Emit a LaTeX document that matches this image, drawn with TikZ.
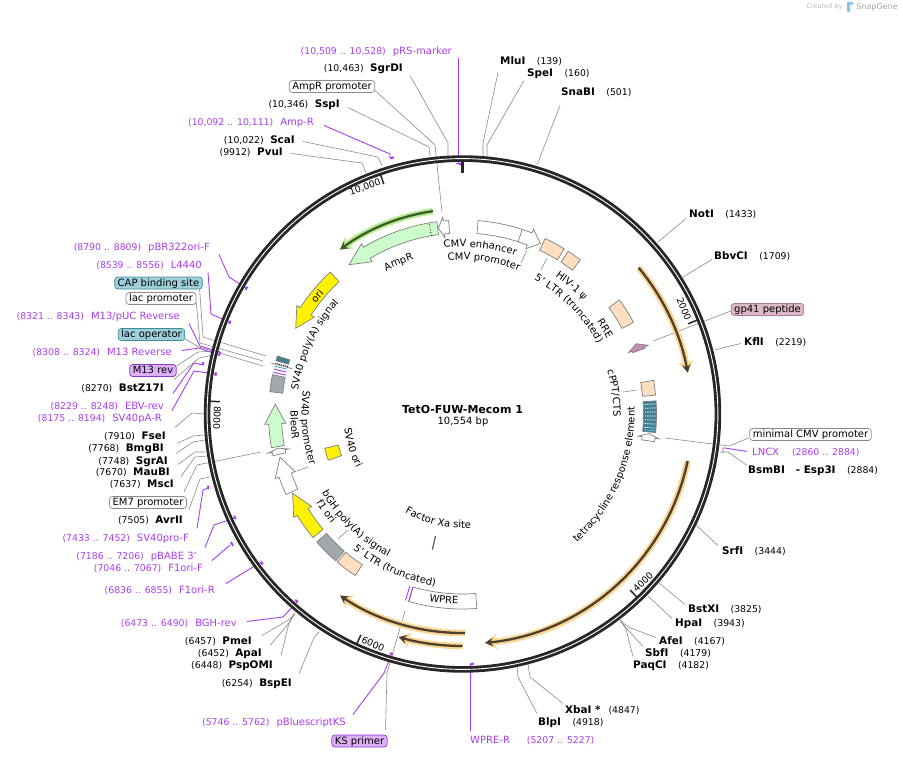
\documentclass[tikz,border=0pt]{standalone}
\usepackage{fontspec}
\setmainfont{DejaVu Sans}
\usepackage{tikz}
\usetikzlibrary{
  arrows.meta,
  decorations.text
}
\definecolor{PrimerPurple}{HTML}{A93CF0}
\definecolor{LeaderGray}{HTML}{8A8A8A}
\definecolor{FeatGray}{HTML}{7F7F7F}
\definecolor{RingDark}{HTML}{262626}
\definecolor{PeachBox}{HTML}{FDDFC0}
\definecolor{MintBox}{HTML}{CCFCCC}
\definecolor{SlateBox}{HTML}{A3A8AE}
\definecolor{TealBox}{HTML}{3F7F90}
\definecolor{AmberGlow}{HTML}{FBD592}
\definecolor{AmberDark}{HTML}{4B4030}
\definecolor{LimeGlow}{HTML}{B8EC94}
\definecolor{LimeDark}{HTML}{3D5A28}
\definecolor{TagRose}{HTML}{A87A95}
\definecolor{RoseFill}{HTML}{DDB8C9}
\definecolor{RoseBody}{HTML}{C48FB0}
\definecolor{TagViolet}{HTML}{8A3AC8}
\definecolor{VioletFill}{HTML}{DDB0F5}
\definecolor{TagTeal}{HTML}{3E8DA0}
\definecolor{TealFill}{HTML}{9ED0DA}
\definecolor{LogoBlue}{HTML}{8CC5E8}
\newcommand{\fsmall}{\fontsize{9.3}{11}\selectfont}
\newcommand{\fname}{\fontsize{10.4}{12}\selectfont\bfseries}
\newcommand{\flab}{\fontsize{10}{12}\selectfont}
% position then enzyme, enzyme then position
\newcommand{\cutL}[2]{{\fsmall(#2)}\hspace{6.5pt}{\fname #1}}
\newcommand{\cutR}[2]{{\fname #1}\hspace{11.5pt}{\fsmall(#2)}}
\newcommand{\primL}[2]{{\fsmall(#2)}\hspace{7pt}{\flab #1}}
% feature shapes: box and arrow on the ring of features
\newcommand{\boxfeat}[3]{\draw[feat,fill=#1] (#2:194pt) arc (#2:#3:194pt) -- (#3:181pt) arc (#3:#2:181pt) -- cycle;}
\newcommand{\arrowfeat}[4]{\draw[feat,fill=#1] (#2:194pt) arc (#2:#3:194pt) -- (#3:198pt) -- (#4:187.5pt) -- (#3:177pt) -- (#3:181pt) arc (#3:#2:181pt) -- cycle;}
% curved labels: clockwise has its tops outward, counter-clockwise inward
\newcommand{\curveCW}[3]{\path[postaction={decorate},decoration={text along path,text align=center,text={|\flab|#3}}] ({#1+45}:#2pt) arc ({#1+45}:{#1-45}:#2pt);}
\newcommand{\curveCCW}[3]{\path[postaction={decorate},decoration={text along path,text align=center,text={|\flab|#3}}] ({#1-45}:#2pt) arc ({#1-45}:{#1+45}:#2pt);}
% highlighted arrow inside the ring
\newcommand{\glowarc}[5]{%
  \draw[line width=6.5pt,color=#1,-{Stealth[length=12pt,width=15pt]}] (#4:#3pt) arc (#4:#5:#3pt);
  \draw[line width=2.3pt,color=#2,-{Stealth[length=8pt,width=8.5pt]}] (#4:#3pt) arc (#4:#5:#3pt);}
\tikzset{
  % Enzyme and primer labels
  cutlbl/.style={inner sep=0pt, text height=8pt, text depth=2pt, font=\flab},
  cutw/.style={cutlbl, anchor=base west},
  cute/.style={cutlbl, anchor=base east},
  pri/.style={color=PrimerPurple},
  % Boxed feature label
  tag/.style={
    rectangle, rounded corners=3pt,
    draw=#1, line width=0.7pt, inner xsep=3pt, inner ysep=1pt,
    text height=8pt, text depth=2pt, font=\flab
  },
  tag/.default=LeaderGray,
  % Connectors
  leader/.style={draw=LeaderGray, line width=0.6pt},
  prim/.style={draw=PrimerPurple, line width=0.9pt},
  primtick/.style={draw=PrimerPurple, line width=2pt},
  % Ruler ticks and text
  ruler/.style={draw=RingDark, line width=1.5pt},
  rulerlbl/.style={font=\fsmall, inner sep=0pt},
  % Feature outline
  feat/.style={draw=FeatGray, line width=0.7pt, line join=miter}
}
\begin{document}
\begin{tikzpicture}[x=1pt,y=-1pt]
  \useasboundingbox (0,0) rectangle (903,757);

  % ---- LABELS, TOP ----
  \node[cute,pri] (prsmark) at (452,54.5) {\primL{pRS-marker}{10,509 .. 10,528}};
  \node[cute] (sgrdi) at (403,71.5) {\cutL{SgrDI}{10,463}};
  \node[tag,fill=white] (amppro) at (332,86.5) {AmpR promoter};
  \node[cute] (sspi) at (340,107.5) {\cutL{SspI}{10,346}};
  \node[cute,pri] (amprev) at (314,125.5) {\primL{Amp-R}{10,092 .. 10,111}};
  \node[cute] (scai) at (295,143.5) {\cutL{ScaI}{10,022}};
  \node[cute] (pvui) at (283,155.5) {\cutL{PvuI}{9912}};
  \node[cutw] (mlui) at (500,64.5) {\cutR{MluI}{139}};
  \node[cutw] (spei) at (527,76.5) {\cutR{SpeI}{160}};
  \node[cutw] (snabi) at (561,95.5) {\cutR{SnaBI}{501}};

  % ---- LABELS, RIGHT ----
  \node[cutw] (noti) at (689,217.5) {\cutR{NotI}{1433}};
  \node[cutw] (bbvci) at (714,259.5) {\cutR{BbvCI}{1709}};
  \node[tag=TagRose,fill=RoseFill] (gp41) at (767.5,309.5) {gp41 peptide};
  \node[cutw] (kfli) at (744,345.5) {\cutR{KflI}{2219}};
  \node[tag,fill=white] (mincmv) at (810.5,434.5) {minimal CMV promoter};
  \node[cutw,pri] (lncx) at (752,455.5) {{\flab LNCX}\hspace{13pt}{\fsmall(2860 .. 2884)}};
  \node[cutw] (bsmbi) at (748,473.5) {{\fname BsmBI}\hspace{11pt}{\fname -}\hspace{3.5pt}{\fname Esp3I}\hspace{11.5pt}{\fsmall(2884)}};
  \node[cutw] (srfi) at (722,554.5) {\cutR{SrfI}{3444}};
  \node[cutw] (bstxi) at (688,612.5) {\cutR{BstXI}{3825}};
  \node[cutw] (hpai) at (675,626.5) {\cutR{HpaI}{3943}};
  \node[cutw] (afei) at (659,644.5) {\cutR{AfeI}{4167}};
  \node[cutw] (sbfi) at (645,656.5) {\cutR{SbfI}{4179}};
  \node[cutw] (paqci) at (633,668.5) {\cutR{PaqCI}{4182}};

  % ---- LABELS, BOTTOM ----
  \node[cutw] (xbai) at (565,713.5) {{\fname XbaI *}\hspace{8pt}{\fsmall(4847)}};
  \node[cutw] (blpi) at (538,725.5) {\cutR{BlpI}{4918}};
  \node[cutw,pri] (wprer) at (470,743.5) {{\flab WPRE-R}\hspace{17pt}{\fsmall(5207 .. 5227)}};
  \node[tag=TagViolet,fill=VioletFill] (ksprimer) at (359.5,741) {KS primer};
  \node[cute,pri] (pblueks) at (346,725.5) {\primL{pBluescriptKS}{5746 .. 5762}};
  \node[cute] (bspei) at (292,686.5) {\cutL{BspEI}{6254}};
  \node[cute] (pspomi) at (273,668.5) {\cutL{PspOMI}{6448}};
  \node[cute] (apai) at (262,656.5) {\cutL{ApaI}{6452}};
  \node[cute] (pmei) at (252,644.5) {\cutL{PmeI}{6457}};

  % ---- LABELS, LEFT ----
  \node[cute,pri] (bghrev) at (237,626.5) {\primL{BGH-rev}{6473 .. 6490}};
  \node[cute,pri] (fori_r) at (215,593.5) {\primL{F1ori-R}{6836 .. 6855}};
  \node[cute,pri] (fori_f) at (203,571.5) {\primL{F1ori-F}{7046 .. 7067}};
  \node[cute,pri] (pbabe) at (197,559.5) {\primL{pBABE 3'}{7186 .. 7206}};
  \node[cute,pri] (svprof) at (189,541.5) {\primL{SV40pro-F}{7433 .. 7452}};
  \node[cute] (avrii) at (183,523.5) {\cutL{AvrII}{7505}};
  \node[tag,fill=white] (em7pro) at (148,502.5) {EM7 promoter};
  \node[cute] (msci) at (174,487.5) {\cutL{MscI}{7637}};
  \node[cute] (maubi) at (170,475.5) {\cutL{MauBI}{7670}};
  \node[cute] (sgrai) at (168,464.5) {\cutL{SgrAI}{7748}};
  \node[cute] (bmgbi) at (164,451.5) {\cutL{BmgBI}{7768}};
  \node[cute] (fsei) at (166,439.5) {\cutL{FseI}{7910}};
  \node[cute,pri] (svpar) at (162,421.5) {\primL{SV40pA-R}{8175 .. 8194}};
  \node[cute,pri] (ebvrev) at (164,409.5) {\primL{EBV-rev}{8229 .. 8248}};
  \node[cute] (bstz) at (164,391.5) {\cutL{BstZ17I}{8270}};
  \node[tag=TagViolet,fill=VioletFill] (m13rev) at (153,370.5) {M13 rev};
  \node[cute,pri] (m13r) at (172,355.5) {\primL{M13 Reverse}{8308 .. 8324}};
  \node[tag=TagTeal,fill=TealFill] (lacop) at (151.5,334.5) {lac operator};
  \node[cute,pri] (m13puc) at (180,319.5) {\primL{M13/pUC Reverse}{8321 .. 8343}};
  \node[tag,fill=white] (lacpro) at (161,298.5) {lac promoter};
  \node[tag=TagTeal,fill=TealFill] (capsite) at (158.5,283) {CAP binding site};
  \node[cute,pri] (l4440) at (202,268.5) {\primL{L4440}{8539 .. 8556}};
  \node[cute,pri] (pbrf) at (210,250.5) {\primL{pBR322ori-F}{8790 .. 8809}};

  % ---- CENTRE ----
  \node[inner sep=0pt,font=\fontsize{11}{13}\selectfont\bfseries] (title) at (462.5,409) {TetO-FUW-Mecom 1};
  \node[inner sep=0pt,font=\flab] (length) at (463,422) {10,554 bp};

  % ---- LOGO ----
  \node[inner sep=0pt,font=\fontsize{6.5}{8}\selectfont,text=gray!55] (created) at (824.5,7) {Created by};
  \node[inner sep=0pt,font=\fontsize{8}{10}\selectfont,text=gray!70] (snapgene) at (877,7) {SnapGene};
  \fill[LogoBlue] (847,2) -- (853,2) -- (853,5) -- (850,5) -- (850,12) -- (847,12) -- cycle;

  % ---- LEADERS, TOP ----
  \coordinate (prsmark-r) at (458,163);
  \draw[prim] ([shift={(6,7)}]prsmark.east) -- (prsmark-r) -- (456,163);
  \coordinate (sgrdi-r) at (448,156);
  \draw[leader] ([shift={(7,7)}]sgrdi.east) -- (448,143) -- (sgrdi-r);
  \coordinate (amppro-r) at (442,212);
  \draw[leader] ([shift={(0,4)}]amppro.east) -- (435,145) -- (amppro-r);
  \coordinate (sspi-r) at (430,156);
  \draw[leader] ([shift={(8,3)}]sspi.east) -- (429,147) -- (sspi-r);
  \coordinate (amprev-r) at (390,158);
  \draw[prim] ([shift={(10,3)}]amprev.east) -- (390,154) -- (amprev-r);
  \draw[primtick] (amprev-r) -- (394,157.5);
  \coordinate (scai-r) at (382,166);
  \draw[leader] ([shift={(8,1)}]scai.east) -- (378,157) -- (scai-r);
  \coordinate (pvui-r) at (366,173);
  \draw[leader] ([shift={(8,1)}]pvui.east) -- (362,163) -- (pvui-r);
  \coordinate (mlui-r) at (483,158);
  \draw[leader] ([shift={(-2,11)}]mlui.west) -- (483,143) -- (mlui-r);
  \coordinate (spei-r) at (487,158);
  \draw[leader] ([shift={(-3,7)}]spei.west) -- (487,145) -- (spei-r);
  \coordinate (snabi-r) at (537,165);
  \draw[leader] ([shift={(-1,13)}]snabi.west) -- (snabi-r);

  % ---- LEADERS, RIGHT ----
  \coordinate (noti-r) at (658,242);
  \draw[leader] ([shift={(-3,4)}]noti.west) -- (noti-r);
  \coordinate (bbvci-r) at (683,277);
  \draw[leader] ([shift={(-2,3)}]bbvci.west) -- (bbvci-r);
  \coordinate (gp41-r) at (653,341);
  \draw[leader] ([shift={(0,1.5)}]gp41.west) -- (gp41-r);
  \coordinate (kfli-r) at (715,350);
  \draw[leader] ([shift={(-3,1)}]kfli.west) -- (726,347) -- (kfli-r);
  \coordinate (mincmv-r) at (665,438);
  \draw[leader] ([shift={(-1,3.5)}]mincmv.west) -- (729,446) -- (mincmv-r);
  \coordinate (lncx-r) at (723,453);
  \draw[prim] ([shift={(-5,-1)}]lncx.west) -- (725,448) -- (723,448) -- (lncx-r);
  \coordinate (bsmbi-r) at (720,452);
  \draw[leader] ([shift={(-1,-5)}]bsmbi.west) -- (728,452) -- (bsmbi-r);
  \coordinate (srfi-r) at (694,523);
  \draw[leader] ([shift={(-4,-6)}]srfi.west) -- (srfi-r);
  \coordinate (bstxi-r) at (659,583);
  \draw[leader] ([shift={(-3,-5)}]bstxi.west) -- (bstxi-r);
  \coordinate (hpai-r) at (648,596);
  \draw[leader] ([shift={(-3,-5)}]hpai.west) -- (hpai-r);
  \coordinate (afei-r) at (620,620);
  \draw[leader] ([shift={(-3,-4)}]afei.west) -- (628,627) -- (afei-r);
  \coordinate (sbfi-r) at (620,620);
  \draw[leader] ([shift={(-2,-7)}]sbfi.west) -- (626,628) -- (sbfi-r);
  \coordinate (paqci-r) at (620,620);
  \draw[leader] ([shift={(0,-9)}]paqci.west) -- (626,629) -- (paqci-r);

  % ---- LEADERS, BOTTOM ----
  \coordinate (xbai-r) at (528,664);
  \draw[leader] ([shift={(-2,-7)}]xbai.west) -- (530,677) -- (xbai-r);
  \coordinate (blpi-r) at (517,666);
  \draw[leader] ([shift={(-1,-9)}]blpi.west) -- (518,677) -- (blpi-r);
  \coordinate (wprer-r) at (472,664);
  \draw[prim] ([shift={(0,-10)}]wprer.west) -- (470,664) -- (wprer-r);
  \coordinate (ksprimer-r) at (405,611);
  \draw[leader] ([shift={(-2,-5)}]ksprimer.north east) -- (387,673) -- (ksprimer-r);
  \coordinate (pblueks-r) at (392,653);
  \draw[prim] ([shift={(7,-8)}]pblueks.east) -- (384,673) -- (388,663) -- (pblueks-r);
  \coordinate (bspei-r) at (319,632);
  \draw[leader] ([shift={(7,-10)}]bspei.east) -- (314,638) -- (bspei-r);
  \coordinate (pspomi-r) at (294,614);
  \draw[leader] ([shift={(8,-10)}]pspomi.east) -- (289,623) -- (pspomi-r);
  \coordinate (apai-r) at (295,613);
  \draw[leader] ([shift={(8,-8)}]apai.east) -- (290,622) -- (apai-r);
  \coordinate (pmei-r) at (295,613);
  \draw[leader] ([shift={(10,-6)}]pmei.east) -- (290,619) -- (pmei-r);

  % ---- LEADERS, LEFT ----
  \coordinate (bghrev-r) at (297,602);
  \draw[prim] ([shift={(10,-2)}]bghrev.east) -- (283,617) -- (bghrev-r);
  \coordinate (fori_r-r) at (262,562);
  \draw[prim] ([shift={(11,-7)}]fori_r.east) -- (253,567) -- (fori_r-r);
  \coordinate (fori_f-r) at (230,545);
  \draw[prim] ([shift={(9,-8)}]fori_f.east) -- (fori_f-r);
  \draw[primtick] (231,542) -- (233,546);
  \coordinate (pbabe-r) at (235,518);
  \draw[prim] ([shift={(8,-9)}]pbabe.east) -- (214,525) -- (pbabe-r);
  \coordinate (svprof-r) at (208,488);
  \draw[prim] ([shift={(8,-10)}]svprof.east) -- (203,490) -- (svprof-r);
  \draw[primtick] (208,485.5) -- (208.5,489);
  \coordinate (avrii-r) at (210,477);
  \draw[leader] ([shift={(6,-11)}]avrii.east) -- (200,479) -- (avrii-r);
  \coordinate (em7pro-r) at (261,452);
  \draw[leader] ([shift={(36,-4.5)}]em7pro.north) -- (197,465) -- (em7pro-r);
  \coordinate (msci-r) at (207,456);
  \draw[leader] ([shift={(7,-8)}]msci.east) -- (195,457) -- (msci-r);
  \coordinate (maubi-r) at (205,452);
  \draw[leader] ([shift={(8,-8)}]maubi.east) -- (195,452) -- (maubi-r);
  \coordinate (sgrai-r) at (205,440);
  \draw[leader] ([shift={(8,-8)}]sgrai.east) -- (193,442) -- (sgrai-r);
  \coordinate (bmgbi-r) at (205,435);
  \draw[leader] ([shift={(13,-5)}]bmgbi.east) -- (193,436) -- (bmgbi-r);
  \coordinate (fsei-r) at (205,414);
  \draw[leader] ([shift={(9,-9)}]fsei.east) -- (192,413) -- (fsei-r);
  \coordinate (svpar-r) at (215,374);
  \draw[prim] ([shift={(10,-8)}]svpar.east) -- (194,371) -- (svpar-r);
  \coordinate (ebvrev-r) at (203,365);
  \draw[prim] ([shift={(9,-13)}]ebvrev.east) -- (194,363) -- (ebvrev-r);
  \draw[primtick] (ebvrev-r) -- (203,361.5);
  \coordinate (bstz-r) at (213,355);
  \draw[leader] ([shift={(10,-9)}]bstz.east) -- (199,358) -- (bstz-r);
  \coordinate (m13rev-r) at (213,351);
  \draw[leader] ([shift={(0,-4.5)}]m13rev.east) -- (198,352) -- (m13rev-r);
  \coordinate (m13r-r) at (219,355);
  \draw[prim] ([shift={(10,-2)}]m13r.east) -- (199,348) -- (m13r-r);
  \coordinate (lacop-r) at (263,366);
  \draw[leader] ([shift={(0,4.5)}]lacop.east) -- (199,347) -- (lacop-r);
  \coordinate (m13puc-r) at (220,352);
  \draw[prim] ([shift={(9,7)}]m13puc.east) -- (200,346) -- (m13puc-r);
  \draw[primtick] (m13puc-r) -- (219,356);
  \coordinate (lacpro-r) at (263,361);
  \draw[leader] ([shift={(0,4.5)}]lacpro.east) -- (200,343) -- (lacpro-r);
  \coordinate (capsite-r) at (266,356);
  \draw[leader] ([shift={(-3,0)}]capsite.south east) -- (203,337) -- (capsite-r);
  \coordinate (l4440-r) at (229,322);
  \draw[prim] ([shift={(6,7)}]l4440.east) -- (211,314) -- (l4440-r);
  \coordinate (pbrf-r) at (246,288);
  \draw[prim] ([shift={(9,7)}]pbrf.east) -- (229,277) -- (pbrf-r);

  \begin{scope}[shift={(462.5,414)},y=1pt]
    % ---- RING ----
    \draw[RingDark,line width=6.6pt] (0,0) circle (255.4pt);
    \draw[white,line width=0.9pt] (0,0) circle (255.4pt);
    % ---- PRIMER MARKS INSIDE THE RING ----
    \foreach \a in {149.8,158.5,170.8,-155.6,-143.4,-131.6,-106.5,-87.8,90.5} {
      \draw[PrimerPurple,line width=2pt] (\a+0.4:250pt) -- (\a-0.4:250pt);
    }
    % ---- RULER ----
    \draw[RingDark,line width=2.6pt] (90:253pt) -- (90:241pt);
    \foreach \a in {21.8,-46.4,-114.7,-182.9,108.9} {
      \draw[ruler] (\a:253pt) -- (\a:243pt);
    }
  \end{scope}
  \node[rulerlbl,rotate=-68] (tick2000) at (684,309) {2000};
  \node[rulerlbl,rotate=44] (tick4000) at (643,582) {4000};
  \node[rulerlbl,rotate=-24] (tick6000) at (373,644) {6000};
  \node[rulerlbl,rotate=-92] (tick8000) at (217,418) {8000};
  \node[rulerlbl,rotate=19] (tick10000) at (365,187) {10,000};

  \begin{scope}[shift={(462.5,414)},y=1pt]
    % ---- HIGHLIGHTED ARROWS ----
    \glowarc{LimeGlow}{LimeDark}{205}{98.3}{126.7}
    \glowarc{AmberGlow}{AmberDark}{229}{39.7}{10.4}
    \glowarc{AmberGlow}{AmberDark}{230}{-11.8}{-84.4}
    \glowarc{AmberGlow}{AmberDark}{219}{-89.3}{-124}
    \glowarc{AmberGlow}{AmberDark}{232}{-90}{-106}

    % ---- FEATURES, CLOCKWISE FROM THE TOP ----
    \draw[feat,fill=white] (85.4:194pt) arc (85.4:69:194pt) -- (69:198pt) -- (65.4:187.5pt) -- (69:177pt) -- (69:181pt) arc (69:85.4:181pt) -- cycle;
    \draw[feat] (72.1:194pt) -- (72.1:181pt);
    \boxfeat{PeachBox}{64.8}{58.4}
    \boxfeat{PeachBox}{57}{52.6}
    \boxfeat{PeachBox}{36}{28.2}
    \arrowfeat{RoseBody}{19.8}{20.3}{22}
    \boxfeat{PeachBox}{10}{5.6}
    \boxfeat{TealBox}{3.9}{-5.5}
    \foreach \a in {3.0,1.8,0.6,-0.6,-1.8,-3.0,-4.2} {
      \draw[white,line width=0.7pt,dash pattern=on 1.5pt off 0.8pt] (\a:193pt) -- (\a:182pt);
    }
    \draw[cyan!70,line width=0.7pt] (-5:193pt) -- (-5:182pt);
    \arrowfeat{white}{-8.2}{-7.2}{-6}
    \draw[feat,fill=white] (274.2:195pt) arc (274.2:254:195pt) -- (254:180pt) arc (254:274.2:180pt) -- cycle;
    \draw[PrimerPurple,line width=0.9pt] (254:195pt) -- (254:180pt);
    \draw[PrimerPurple,line width=0.9pt] (253:195pt) -- (253:180pt);
    \boxfeat{PeachBox}{229.8}{236.4}
    \boxfeat{SlateBox}{221.3}{229.2}
    \arrowfeat{yellow}{219.6}{211.5}{205}
    \arrowfeat{white}{204.5}{199}{193.3}
    \arrowfeat{white}{192.4}{191.4}{190.5}
    \arrowfeat{MintBox}{190}{183}{177}
    \boxfeat{SlateBox}{168.3}{173.4}
    \draw[PrimerPurple,line width=0.9pt] (167.6:181pt) -- (167.6:194pt);
    \draw[PrimerPurple,line width=0.9pt] (166.6:181pt) -- (166.6:194pt);
    \draw[cyan!60!gray,line width=0.9pt] (165.7:181pt) -- (165.7:194pt);
    \draw[FeatGray,line width=0.7pt] (165.1:176pt) -- (165.1:198pt);
    \foreach \a in {164.0,164.8} {
      \draw[black,line width=0.8pt,dash pattern=on 1pt off 1pt] (\a:181pt) -- (\a:194pt);
    }
    \boxfeat{TealBox}{162.6}{164}
    \arrowfeat{yellow}{133}{146.8}{152.8}
    \arrowfeat{white}{94.1}{95.7}{97.4}
    \arrowfeat{MintBox}{97.6}{120.7}{127.2}
    \draw[black,line width=0.8pt,dotted] (99.9:181pt) -- (99.9:194pt);
    \draw[FeatGray!80!black,line width=1.3pt] (257.5:125pt) -- (257.5:139pt);
    \draw[feat,fill=yellow] (194:142pt) arc (194:199:142pt) -- (199:128pt) arc (199:194:128pt) -- cycle;

    % ---- FEATURE LABELS ----
    \curveCW{83.9}{167}{CMV enhancer}
    \curveCW{82}{154}{CMV promoter}
    \curveCW{49.6}{166}{HIV-1 ψ}
    \curveCW{44.7}{152}{5' LTR (truncated)}
    \curveCW{31}{163}{RRE}
    \curveCW{7.8}{151}{cPPT/CTS}
    \curveCCW{-23}{172}{tetracycline response element}
    \curveCW{112.8}{162}{AmpR}
    \curveCW{141}{183.5}{ori}
    \curveCW{155}{166}{SV40 poly(A) signal}
    \curveCCW{185}{161}{SV40 promoter}
    \curveCCW{183.6}{172}{BleoR}
    \curveCCW{196.9}{119}{SV40 ori}
    \curveCCW{225.8}{161}{bGH poly(A) signal}
    \curveCCW{215.5}{171}{f1 ori}
    \curveCCW{246}{174}{5' LTR (truncated)}
    \curveCCW{257}{114}{Factor Xa site}
    \curveCCW{264.3}{190}{WPRE}
  \end{scope}

  % ---- SHORT LEADERS OF THE FEATURE LABELS ----
  \coordinate (cmvp-a) at (521,263);
  \coordinate (cmvp-b) at (527,250);
  \draw[leader] (cmvp-a) -- (cmvp-b);
  \coordinate (ltr-a) at (541,270);
  \coordinate (ltr-b) at (547,258);
  \draw[leader] (ltr-a) -- (ltr-b);
  \coordinate (cppt-a) at (623,392);
  \coordinate (cppt-b) at (637,390);
  \draw[leader] (cppt-a) -- (cppt-b);
  \coordinate (svp-a) at (308,467);
  \coordinate (svp-b) at (297,471);
  \draw[leader] (svp-a) -- (svp-b);
  \coordinate (bgh-a) at (348,530);
  \coordinate (bgh-b) at (338,539);
  \draw[leader] (bgh-a) -- (bgh-b);

\end{tikzpicture}
\end{document}
